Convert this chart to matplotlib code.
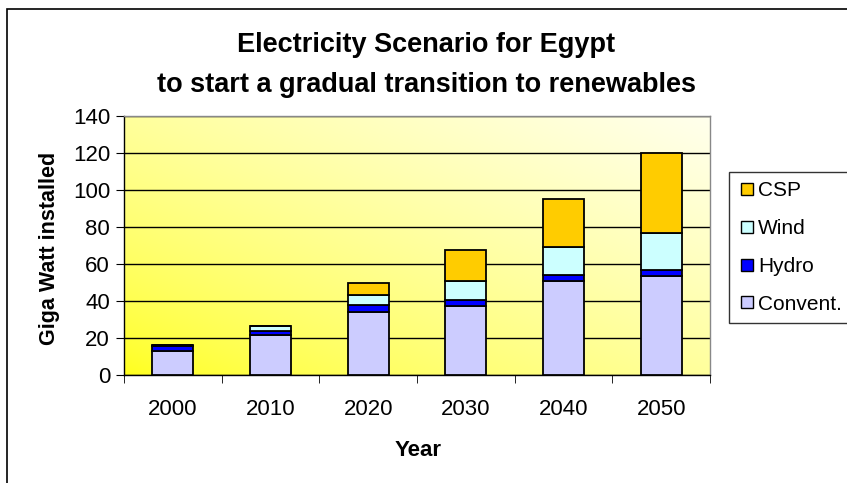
import numpy as np
import matplotlib.pyplot as plt
from matplotlib.patches import Rectangle
from matplotlib.lines import Line2D

plt.rcParams["font.family"] = ["Liberation Sans", "DejaVu Sans"]

years = ["2000", "2010", "2020", "2030", "2040", "2050"]
convent = [13.0, 21.5, 34.0, 37.5, 51.0, 53.5]
hydro = [2.5, 2.5, 4.0, 3.0, 3.0, 3.0]
wind = [0.5, 2.5, 5.5, 10.5, 15.0, 20.5]
csp = [0.0, 0.0, 6.0, 16.5, 26.0, 43.0]

series = [("Convent.", convent, "#CCCCFF"),
          ("Hydro", hydro, "#0000FF"),
          ("Wind", wind, "#CCFFFF"),
          ("CSP", csp, "#FFCC00")]

W, H = 847, 483
fig = plt.figure(figsize=(W / 100, H / 100), dpi=100)
ax = fig.add_axes([124 / W, 1 - 375 / H, 586 / W, 259 / H])

# outer chart frame (runs off the right and bottom edges)
fig.patches.append(Rectangle((7 / W, -0.1), 1.2, 1.1 - 9 / H, transform=fig.transFigure,
                             fill=False, edgecolor="black", linewidth=1.2))

# yellow gradient background
gx, gy = np.meshgrid(np.linspace(0, 1, 200), np.linspace(0, 1, 200))
t = np.clip((gx + (1 - gy)) / 2, 0, 1) ** 0.7
top = np.array([1.0, 1.0, 0.1])
bot = np.array([1.0, 1.0, 0.93])
img = top[None, None, :] * (1 - t[..., None]) + bot[None, None, :] * t[..., None]
ax.imshow(img, extent=[0, 1, 0, 1], transform=ax.transAxes, aspect="auto", zorder=0)

x = np.arange(len(years))
bottom = np.zeros(len(years))
for name, vals, col in series:
    ax.bar(x, vals, bottom=bottom, width=0.42, color=col, edgecolor="black",
           linewidth=1.3, zorder=3, label=name)
    bottom += np.array(vals)

ax.set_xlim(-0.5, 5.5)
ax.set_ylim(0, 140)
ax.set_yticks(range(0, 141, 20))
ax.yaxis.grid(True, color="black", linewidth=1.0, zorder=1)
ax.set_axisbelow(True)
ax.set_xticks(x)
ax.set_xticklabels(years, fontsize=16)
ax.set_xticks(np.arange(-0.5, 6, 1), minor=True)
ax.tick_params(axis="x", which="major", length=0, pad=17)
ax.tick_params(axis="x", which="minor", length=6, color="black")
ax.tick_params(axis="y", labelsize=16, length=6, pad=4, direction="out")
for s in ax.spines.values():
    s.set_color("black")
    s.set_linewidth(1.0)
ax.spines["top"].set_color("#888888")
ax.spines["right"].set_color("#888888")

ax.set_xlabel("Year", fontsize=16, fontweight="bold")
ax.xaxis.set_label_coords(0.502, -0.25)
ax.set_ylabel("Giga Watt installed", fontsize=15.5, fontweight="bold")
ax.yaxis.set_label_coords(-0.11, 0.49)

fig.text(426 / W, 1 - 52 / H, "Electricity Scenario for Egypt", ha="center", va="baseline",
         fontsize=19.5, fontweight="bold")
fig.text(426 / W, 1 - 92 / H, "to start a gradual transition to renewables", ha="center",
         va="baseline", fontsize=19.5, fontweight="bold")

handles = [Line2D([], [], marker="s", linestyle="none", markersize=8, markerfacecolor=col,
                  markeredgecolor="black", markeredgewidth=1.0, label=name)
           for name, vals, col in series[::-1]]
leg = fig.legend(handles=handles, loc="upper left", bbox_to_anchor=(729 / W, 1 - 172 / H),
                 fontsize=15, frameon=True, fancybox=False, edgecolor="black",
                 handletextpad=0.15, labelspacing=0.9, borderpad=0.45, handlelength=0.8,
                 borderaxespad=0)
leg.get_frame().set_linewidth(1.0)

fig.savefig("out.png", dpi=100)
